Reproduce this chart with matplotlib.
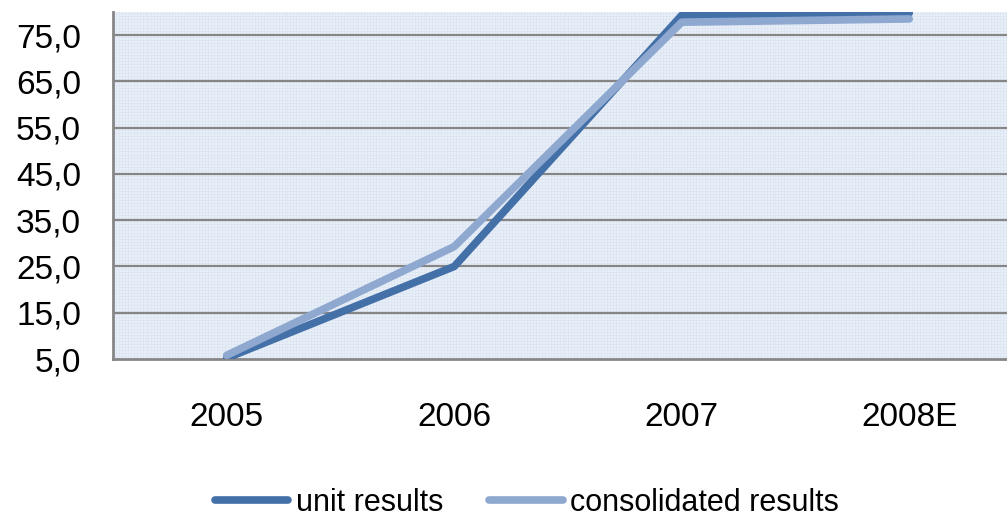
import matplotlib
matplotlib.use("Agg")
import matplotlib.pyplot as plt
import numpy as np

categories = ["2005", "2006", "2007", "2008E"]
unit_results = [5.2, 25.0, 79.3, 79.8]
consolidated_results = [5.8, 29.3, 77.8, 78.5]
yticks = [5, 15, 25, 35, 45, 55, 65, 75]

plt.rcParams['font.family'] = ['Liberation Sans', 'DejaVu Sans']

fig = plt.figure(figsize=(10.07, 5.2), dpi=100)
W, H = 1007, 520
left, right, top, bottom = 113, 1023, 12, 359
ax = fig.add_axes([left / W, 1 - bottom / H, (right - left) / W, (bottom - top) / H])
ax.set_facecolor("#e8eff8")

x = np.arange(len(categories))
ax.set_xlim(-0.5, 3.5)
ax.set_ylim(5, 80)

# fine background grid
for yy in np.arange(5, 80, 0.65):
    ax.axhline(yy, color="#d8e2f0", lw=0.4, zorder=0)
for xx in np.arange(-0.5, 3.5, 0.013):
    ax.axvline(xx, color="#d8e2f0", lw=0.4, zorder=0)

for yv in yticks[1:]:
    ax.axhline(yv, color="#868686", lw=1.6, zorder=1)

l1, = ax.plot(x, unit_results, color="#4470a8", lw=5.5, solid_capstyle="round",
              solid_joinstyle="round", zorder=3, label="unit results")
l2, = ax.plot(x, consolidated_results, color="#8ea8d0", lw=5.5, solid_capstyle="round",
              solid_joinstyle="round", zorder=4, label="consolidated results")

ax.set_yticks(yticks)
ax.set_yticklabels([f"{v:.1f}".replace(".", ",") for v in yticks], fontsize=24)
ax.set_xticks(x)
ax.set_xticklabels(categories, fontsize=24)
ax.tick_params(axis="both", length=0)
ax.tick_params(axis="x", pad=31)
ax.tick_params(axis="y", pad=23)

for s in ["top", "right"]:
    ax.spines[s].set_visible(False)
for s in ["left", "bottom"]:
    ax.spines[s].set_color("#868686")
    ax.spines[s].set_linewidth(2.0)

fig.legend(handles=[l1, l2], loc="center", bbox_to_anchor=(527 / W, 1 - 503 / H),
           ncol=2, frameon=False, fontsize=22,
           handlelength=2.4, handletextpad=0.25, columnspacing=1.5)

fig.savefig("out.png", dpi=100)
